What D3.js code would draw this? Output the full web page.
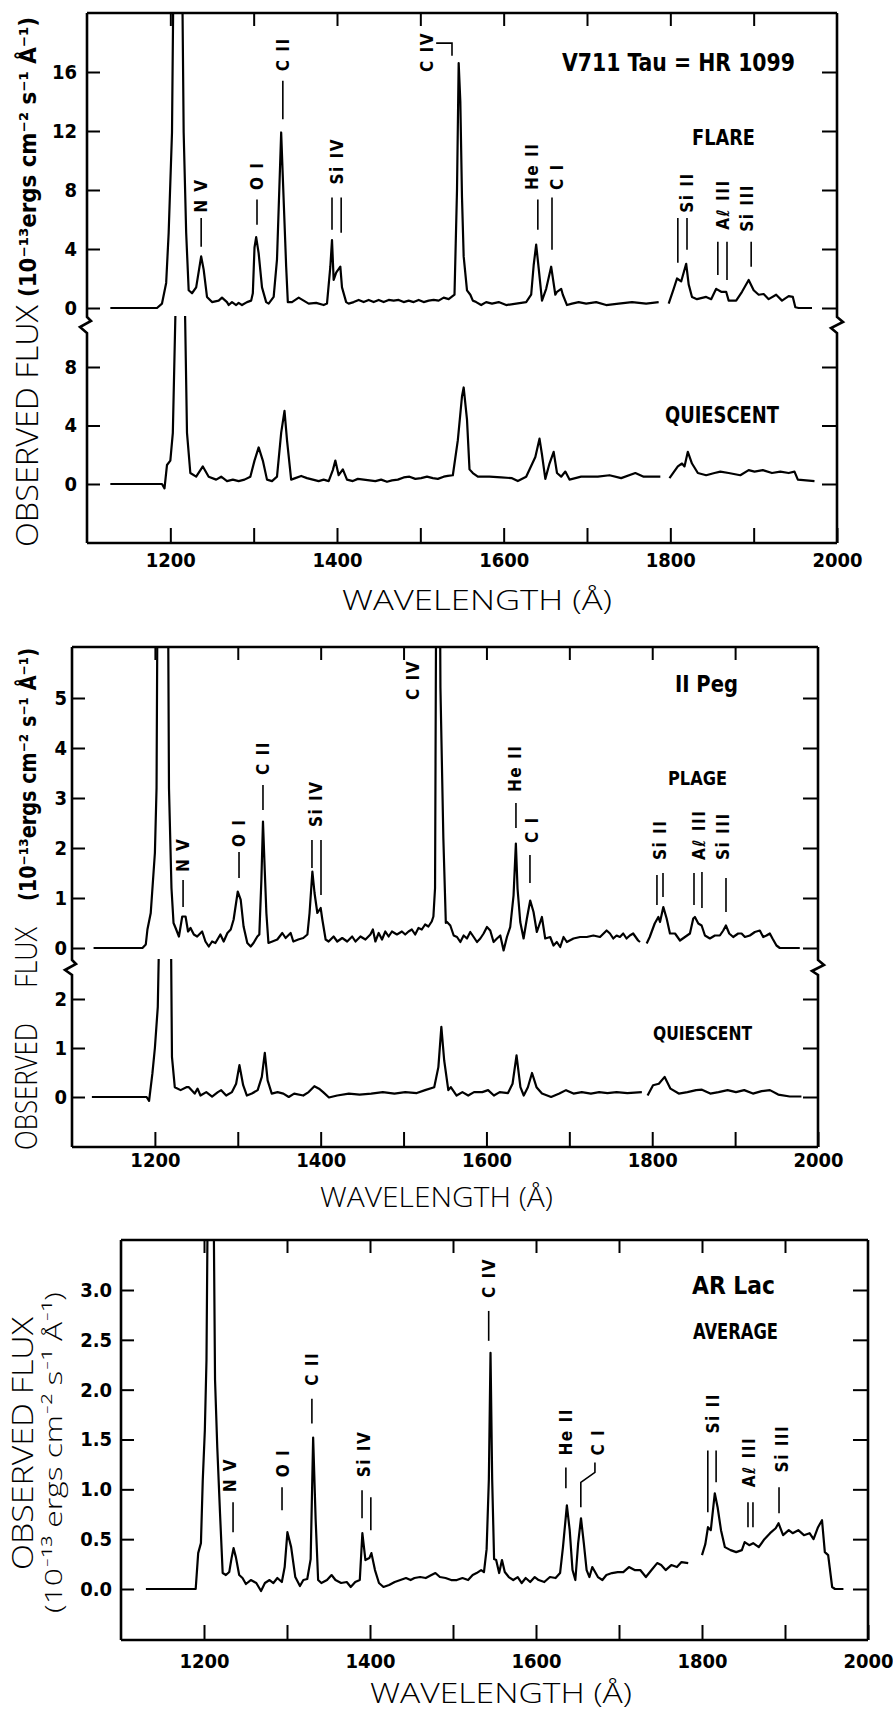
<!DOCTYPE html>
<html>
<head>
<meta charset="utf-8">
<script src="https://cdn.jsdelivr.net/npm/d3@7"></script>
<style>
body { margin: 0; background: #fff; }
.cond, .tick text { font-family: "Liberation Sans Narrow", "Arial Narrow", "DejaVu Sans Condensed", "DejaVu Sans", sans-serif; font-stretch: condensed; font-weight: bold; fill: #000; }
.tick text { font-size: 20px; }
.tick line { stroke: #000; stroke-width: 2; }
.thin { font-family: "Open Sans", "Lato", "Liberation Sans", sans-serif; font-weight: 300; fill: #000; }
.spec { fill: none; stroke: #000; stroke-width: 2.2; stroke-linejoin: round; }
.frame { fill: none; stroke: #000; stroke-width: 2.6; }
.mark { fill: none; stroke: #000; stroke-width: 1.6; }
</style>
</head>
<body>
<svg width="893" height="1712"></svg>
<script>
var svg = d3.select("svg");

// ---- tick values ----
var xTicks = [1200, 1300, 1400, 1500, 1600, 1700, 1800, 1900, 2000];
var xTickLabels = [1200, 1400, 1600, 1800, 2000];
var v711FlareTicks = [0, 4, 8, 12, 16];
var v711QuietTicks = [0, 4, 8];
var iiPegPlageTicks = [0, 1, 2, 3, 4, 5];
var iiPegQuietTicks = [0, 1, 2];
var arLacTicks = [0, 0.5, 1, 1.5, 2, 2.5, 3];

// ---- spectra: [wavelength (A), flux (1e-13 erg/cm2/s/A)], null = gap ----
var v711Flare = [[1128,0],[1184,0],[1190,0.3],[1195,1.7],[1198,5.1],[1202,11.9],[1205,30],[1213,30],[1216,11.9],[1219,5.1],[1222,1.2],[1226,1.0],[1231,1.4],[1237,3.5],[1240,2.6],[1244,0.75],[1250,0.4],[1258,0.5],[1262,0.7],[1268,0.4],[1270,0.2],[1274,0.4],[1279,0.2],[1282,0.35],[1286,0.2],[1292,0.4],[1297,0.5],[1299,1.0],[1301,4.1],[1303,4.8],[1306,3.7],[1310,1.4],[1315,0.4],[1318,0.3],[1324,0.75],[1328,3.3],[1333,11.9],[1336,7.3],[1339,2.8],[1341,0.4],[1346,0.4],[1354,0.7],[1360,0.5],[1366,0.3],[1375,0.35],[1384,0.2],[1388,0.3],[1392,2.8],[1394,4.6],[1396,1.9],[1399,2.4],[1404,2.8],[1406,1.4],[1411,0.4],[1414,0.3],[1420,0.4],[1426,0.55],[1432,0.4],[1438,0.55],[1444,0.4],[1450,0.55],[1456,0.4],[1462,0.55],[1468,0.5],[1474,0.55],[1480,0.4],[1486,0.5],[1492,0.4],[1498,0.55],[1504,0.4],[1510,0.5],[1516,0.55],[1522,0.5],[1528,0.7],[1534,0.6],[1541,0.9],[1544,8],[1546,16.6],[1548,14],[1550,7.5],[1552,3.5],[1556,1.2],[1560,0.9],[1563,0.5],[1567,0.4],[1573,0.2],[1579,0.4],[1586,0.3],[1594,0.4],[1603,0.2],[1615,0.3],[1627,0.4],[1633,0.9],[1636,2.9],[1639,4.3],[1642,2.7],[1646,0.5],[1651,1.3],[1657,2.8],[1662,0.9],[1664,1.1],[1669,1.3],[1671,0.9],[1676,0.2],[1682,0.3],[1690,0.4],[1699,0.3],[1711,0.4],[1723,0.2],[1738,0.3],[1754,0.4],[1771,0.3],[1786,0.4],[1792,null],[1798,0.3],[1804,1.3],[1808,2.0],[1813,1.8],[1819,3.0],[1822,1.6],[1826,0.75],[1832,0.6],[1843,0.75],[1849,0.6],[1855,1.3],[1861,1.1],[1867,1.1],[1870,0.5],[1879,0.5],[1886,1.1],[1894,1.9],[1900,1.2],[1906,0.9],[1912,0.95],[1918,0.6],[1927,0.9],[1934,0.5],[1942,0.8],[1947,0.75],[1950,0.05],[1954,0],[1970,0]];

var v711Quiet = [[1128,0],[1190,0],[1193,-0.3],[1196,1.3],[1200,1.6],[1203,3.5],[1207,14],[1217,14],[1220,3.5],[1224,0.75],[1231,0.5],[1239,1.2],[1246,0.5],[1255,0.3],[1261,0.5],[1268,0.2],[1275,0.3],[1282,0.2],[1289,0.3],[1296,0.5],[1301,1.6],[1306,2.5],[1311,1.6],[1316,0.3],[1322,0.2],[1328,0.5],[1333,3.5],[1337,5.0],[1340,3.0],[1345,0.3],[1350,0.4],[1357,0.55],[1364,0.4],[1371,0.3],[1378,0.2],[1384,0.3],[1390,0.2],[1395,0.95],[1398,1.6],[1402,0.6],[1407,1.0],[1412,0.3],[1419,0.2],[1425,0.35],[1432,0.3],[1439,0.25],[1446,0.2],[1453,0.3],[1460,0.15],[1466,0.25],[1473,0.3],[1480,0.45],[1487,0.5],[1494,0.35],[1501,0.4],[1508,0.5],[1515,0.4],[1521,0.35],[1528,0.5],[1533,0.55],[1539,0.6],[1545,3.0],[1550,6.0],[1552,6.6],[1556,4.4],[1559,1.0],[1563,0.75],[1569,0.5],[1583,0.5],[1597,0.45],[1610,0.4],[1617,0.2],[1627,0.5],[1638,1.85],[1643,3.1],[1646,2.0],[1650,0.35],[1655,1.4],[1660,2.2],[1664,0.75],[1669,0.5],[1674,0.85],[1679,0.3],[1693,0.5],[1713,0.5],[1727,0.6],[1741,0.4],[1758,0.75],[1768,0.5],[1788,0.5],[1794,null],[1799,0.4],[1809,1.2],[1814,1.4],[1817,1.2],[1821,2.2],[1826,1.4],[1833,0.75],[1843,0.6],[1853,0.75],[1860,0.85],[1870,0.75],[1884,0.6],[1894,0.95],[1901,0.85],[1911,0.95],[1922,0.75],[1932,0.85],[1942,0.75],[1949,0.85],[1953,0.3],[1973,0.2]];

var iiPegPlage = [[1126,0],[1185,0],[1189,0.07],[1191,0.37],[1195,0.7],[1200,1.9],[1202,3.2],[1204,10],[1215,10],[1217,3.2],[1220,1.2],[1222.5,0.5],[1225,0.4],[1229,0.23],[1233,0.63],[1237,0.63],[1240,0.33],[1243,0.4],[1247,0.27],[1251,0.23],[1257,0.33],[1261,0.13],[1265,0.03],[1269,0.13],[1273,0.1],[1279,0.27],[1283,0.13],[1287.5,0.3],[1291.5,0.37],[1295,0.57],[1300,1.13],[1303.5,0.97],[1307,0.43],[1311.5,0.1],[1315.6,0.03],[1319,0.1],[1323.6,0.23],[1326,0.27],[1328.5,1.37],[1330.4,2.53],[1332.5,1.57],[1334.5,0.7],[1337,0.1],[1341.7,0.13],[1347.7,0.17],[1353.7,0.3],[1357.7,0.2],[1363.8,0.3],[1367,0.13],[1373,0.17],[1379,0.2],[1384,0.27],[1386.6,0.7],[1390,1.53],[1392.6,1.1],[1396,0.7],[1400,0.8],[1402,0.57],[1406,0.17],[1409.6,0.13],[1415.6,0.23],[1420,0.13],[1426,0.2],[1432,0.13],[1438,0.23],[1442,0.13],[1448,0.23],[1454,0.17],[1460,0.27],[1463,0.37],[1466,0.13],[1470,0.3],[1474,0.17],[1478,0.33],[1482,0.23],[1486,0.33],[1492,0.27],[1498,0.33],[1502,0.27],[1506,0.33],[1510,0.37],[1514,0.27],[1518,0.4],[1522,0.37],[1526,0.47],[1530,0.43],[1534,0.53],[1536,0.63],[1538,1.2],[1540,10],[1543,10],[1544.5,5.2],[1548,2.2],[1551,0.5],[1552.4,0.52],[1556.4,0.45],[1560.5,0.25],[1564.5,0.22],[1568.5,0.12],[1572.5,0.25],[1576.5,0.19],[1580.5,0.32],[1584.6,0.22],[1588.6,0.12],[1592.6,0.19],[1596.6,0.29],[1600.6,0.42],[1604.6,0.35],[1608.6,0.12],[1612.7,0.19],[1616.7,0.25],[1620.7,-0.05],[1624.7,0.22],[1628.7,0.42],[1632.7,1.05],[1635.5,2.09],[1637.5,1.19],[1640.8,0.52],[1644.8,0.19],[1648.8,0.59],[1652.8,0.95],[1656.8,0.72],[1660.8,0.32],[1664.9,0.52],[1666.9,0.62],[1670.9,0.19],[1676.9,0.22],[1680.9,0.05],[1684.9,0.12],[1689,0.02],[1693,0.22],[1697,0.12],[1705,0.19],[1713,0.22],[1721,0.22],[1729,0.25],[1737,0.22],[1745,0.35],[1749,0.29],[1753,0.19],[1757,0.25],[1761,0.22],[1765,0.29],[1769,0.19],[1773,0.25],[1777,0.29],[1783,0.15],[1785.3,0.12],[1789,null],[1793.3,0.09],[1797,0.22],[1803,0.49],[1807.4,0.62],[1809.4,0.52],[1813.4,0.82],[1817.4,0.59],[1821.4,0.29],[1827.5,0.29],[1833.5,0.15],[1839.5,0.22],[1845.5,0.29],[1849.5,0.59],[1851.5,0.62],[1855.6,0.49],[1859.6,0.45],[1863.6,0.25],[1869.6,0.19],[1875.6,0.25],[1881.6,0.25],[1885.7,0.35],[1888.9,0.45],[1892.9,0.29],[1897.7,0.22],[1903.7,0.29],[1907.8,0.29],[1911.8,0.22],[1917.8,0.25],[1923.8,0.32],[1929.8,0.35],[1933.9,0.22],[1937.9,0.25],[1941.9,0.29],[1945.1,0.19],[1949.9,0.05],[1953.9,0],[1978,0]];

var iiPegQuiet = [[1124,0],[1190,0],[1193,-0.08],[1197,0.48],[1200,1.0],[1203.5,1.84],[1207,5],[1218.6,5],[1220.6,0.82],[1224,0.2],[1231,0.14],[1238,0.2],[1241,0.2],[1248,0.07],[1251.5,0.17],[1255,0.03],[1262,0.1],[1269,0.01],[1276,0.1],[1280,0.14],[1286,0.03],[1293,0.1],[1298,0.27],[1302,0.65],[1306.5,0.24],[1311,0.03],[1317,0.07],[1324,0.14],[1329,0.41],[1332.6,0.9],[1336,0.34],[1341,0.07],[1348,0.1],[1355,0.07],[1361.5,0],[1368,0.07],[1379,0.03],[1385.5,0.1],[1392.4,0.22],[1398,0.17],[1403,0.1],[1410,-0.01],[1420,0.03],[1434,0.07],[1447,0.05],[1461,0.07],[1475,0.1],[1489,0.07],[1502,0.1],[1516,0.08],[1526,0.14],[1537,0.2],[1542,0.61],[1545.6,1.43],[1549,0.75],[1554,0.14],[1557,0.2],[1564,0.03],[1571,0.1],[1578,0.03],[1585,0.1],[1595,0.1],[1602,0.14],[1609,0.03],[1616,0.1],[1626,0.08],[1631.5,0.27],[1636.3,0.85],[1641,0.2],[1645,0.03],[1650,0.2],[1655,0.49],[1660.4,0.2],[1667,0.07],[1678,0],[1688,0.07],[1696,0.14],[1705,0.07],[1715,0.1],[1726,0.07],[1736,0.1],[1746,0.08],[1757,0.1],[1770,0.08],[1787.5,0.1],[1791,null],[1794.4,0.03],[1801,0.24],[1808,0.27],[1815,0.41],[1822,0.17],[1832,0.07],[1842.5,0.1],[1853,0.14],[1860,0.15],[1870,0.07],[1880,0.1],[1891,0.14],[1901,0.1],[1911,0.14],[1921.5,0.07],[1932,0.12],[1942,0.14],[1952,0.05],[1966,0.01],[1980,0.01]];

var arLac = [[1130,0],[1182,0],[1190,0],[1193,0.36],[1196.3,0.46],[1198.5,1.09],[1201,1.59],[1203,2.3],[1205.5,5],[1210.5,5],[1213.3,2.1],[1216,1.42],[1219.3,0.76],[1222.5,0.16],[1226.4,0.14],[1230.4,0.17],[1233.2,0.31],[1235.6,0.41],[1238.4,0.32],[1242.4,0.14],[1246.4,0.11],[1250.5,0.05],[1256.4,0.09],[1263,0.06],[1268.7,-0.02],[1273.4,0.06],[1279,0.09],[1283.6,0.06],[1288.4,0.11],[1293.8,0.07],[1297.2,0.22],[1300.5,0.57],[1305,0.42],[1310,0.12],[1315.6,0.03],[1319.7,0.09],[1324.4,0.1],[1328.5,0.3],[1331.5,1.52],[1334.5,0.7],[1337.5,0.09],[1341.4,0.06],[1348.2,0.09],[1353.7,0.14],[1358.4,0.09],[1365.2,0.06],[1372,0.07],[1376.8,0.02],[1382.2,0.07],[1387.7,0.09],[1390.8,0.56],[1394.5,0.29],[1399.2,0.31],[1401.7,0.36],[1406,0.19],[1410.8,0.06],[1416.2,0.02],[1423,0.04],[1429.8,0.07],[1436.6,0.09],[1443.4,0.11],[1448.9,0.09],[1453.6,0.11],[1460.4,0.12],[1467.2,0.11],[1474,0.14],[1478.8,0.16],[1484.2,0.12],[1491,0.11],[1497.8,0.09],[1504.6,0.09],[1511.4,0.11],[1518.2,0.09],[1523.7,0.14],[1528.4,0.16],[1533.9,0.19],[1537.3,0.17],[1540.5,0.4],[1543.2,1.1],[1545.2,2.37],[1547.2,1.1],[1549.5,0.3],[1552,0.29],[1555.6,0.16],[1559,0.29],[1562.4,0.17],[1567.2,0.12],[1572.6,0.09],[1578,0.12],[1582.8,0.06],[1587.6,0.11],[1593,0.07],[1598.5,0.12],[1603.2,0.09],[1610,0.07],[1616.8,0.12],[1623.6,0.11],[1629,0.16],[1632.5,0.42],[1637.2,0.84],[1640.6,0.59],[1644,0.19],[1647.4,0.09],[1650.8,0.46],[1654.2,0.71],[1657.6,0.46],[1661,0.19],[1664.4,0.12],[1667.8,0.22],[1671.2,0.17],[1674.6,0.12],[1680,0.09],[1684.8,0.14],[1691.6,0.16],[1698.4,0.17],[1705.2,0.17],[1712,0.22],[1718.8,0.19],[1725.6,0.19],[1732.4,0.12],[1739.2,0.19],[1746,0.26],[1750.8,0.24],[1756.2,0.19],[1763,0.24],[1769.8,0.22],[1775.3,0.27],[1783.4,0.26],[1791,null],[1800,0.34],[1804,0.45],[1807.2,0.62],[1810.6,0.59],[1815.4,0.96],[1818.8,0.82],[1822.9,0.59],[1827.6,0.42],[1834.4,0.39],[1841.2,0.37],[1848,0.39],[1851.4,0.47],[1856.9,0.44],[1861.6,0.46],[1868.4,0.42],[1875.2,0.5],[1882,0.56],[1888.8,0.61],[1892.2,0.66],[1897.7,0.54],[1904.5,0.59],[1909.2,0.56],[1916,0.59],[1922.8,0.54],[1929.6,0.56],[1934.4,0.5],[1939.8,0.62],[1944.6,0.69],[1948,0.37],[1952,0.34],[1956.8,0.02],[1960.2,0],[1970.4,0]];

// ---- line identifications: text centre wavelength, flux at text start, marker ticks [wave, from, to] or leader path ----
var v711Lines = [
  {t: "N V", w: 1237, f: 6.45, m: [[1237, 6.1, 4.15]]},
  {t: "O I", w: 1304, f: 8.0, m: [[1304, 7.35, 5.65]]},
  {t: "C II", w: 1335, f: 16.05, m: [[1335, 15.4, 12.8]]},
  {t: "Si IV", w: 1400, f: 8.37, m: [[1394, 7.5, 5.3], [1405, 7.5, 5.1]]},
  {t: "C IV", w: 1508, f: 16.0, p: [[1519, 17.96], [1538, 17.96], [1538, 17.1]]},
  {t: "He II", w: 1634, f: 8.0, m: [[1641, 7.35, 5.3]]},
  {t: "C I", w: 1664, f: 8.0, m: [[1658, 7.5, 3.95]]},
  {t: "Si II", w: 1820, f: 6.45, m: [[1809, 6.1, 3.06], [1820, 6.1, 3.95]]},
  {t: "A\u2113 III", w: 1863, f: 5.3, m: [[1857, 4.5, 2.24], [1868, 4.5, 1.9]]},
  {t: "Si III", w: 1892, f: 5.17, m: [[1897, 4.5, 2.8]]}
];
var iiPegLines = [
  {t: "N V", w: 1234, f: 1.52, m: [[1234, 1.36, 0.82]]},
  {t: "O I", w: 1301.5, f: 2.02, m: [[1301.5, 1.92, 1.4]]},
  {t: "C II", w: 1330.4, f: 3.46, m: [[1330.4, 3.26, 2.76]]},
  {t: "Si IV", w: 1394, f: 2.42, m: [[1389.5, 2.16, 1.6], [1400.4, 2.16, 1.06]]},
  {t: "C IV", w: 1511, f: 4.96, m: []},
  {t: "He II", w: 1634, f: 3.12, m: [[1635.6, 2.9, 2.4]]},
  {t: "C I", w: 1655, f: 2.1, m: [[1652.5, 1.86, 1.3]]},
  {t: "Si II", w: 1809, f: 1.76, m: [[1805.7, 1.46, 0.86], [1813, 1.5, 1.02]]},
  {t: "A\u2113 III", w: 1856.4, f: 1.76, m: [[1850.4, 1.5, 0.86], [1860, 1.52, 0.8]]},
  {t: "Si III", w: 1885.4, f: 1.76, m: [[1889, 1.4, 0.72]]}
];
var arLacLines = [
  {t: "N V", w: 1231.3, f: 0.97, m: [[1235, 0.87, 0.57]]},
  {t: "O I", w: 1295, f: 1.12, m: [[1294, 1.02, 0.79]]},
  {t: "C II", w: 1330, f: 2.04, m: [[1330, 1.91, 1.66]]},
  {t: "Si IV", w: 1393, f: 1.12, m: [[1390.4, 0.99, 0.71], [1401, 0.92, 0.59]]},
  {t: "C IV", w: 1543, f: 2.92, m: [[1543, 2.79, 2.49]]},
  {t: "He II", w: 1636, f: 1.34, m: [[1636, 1.22, 1.01]]},
  {t: "C I", w: 1674.7, f: 1.34, p: [[1671, 1.27], [1671, 1.17], [1654, 1.07], [1654, 0.82]]},
  {t: "Si II", w: 1813, f: 1.56, m: [[1807, 1.39, 0.77], [1817, 1.39, 1.07]]},
  {t: "A\u2113 III", w: 1856.6, f: 1.02, m: [[1855.4, 0.87, 0.62], [1861.4, 0.87, 0.62]]},
  {t: "Si III", w: 1896.4, f: 1.17, m: [[1892.8, 1.02, 0.76]]}
];

// ---- layout ----
var panels = [
  {id: "p1", left: 87, right: 837, top: 13, bottom: 543, brk: [317, 333], pad: 10, xpad: 10, fmt: "d",
   subs: [{spec: v711Flare, domain: [0, 16], range: [308, 72], clip: [13, 316], ticks: v711FlareTicks, lines: v711Lines},
          {spec: v711Quiet, domain: [0, 8], range: [484, 367], clip: [316, 543], ticks: v711QuietTicks}],
   titles: [["V711 Tau = HR 1099", 562, 71, 25, 233], ["FLARE", 692, 145, 22, 63], ["QUIESCENT", 665, 423, 23, 114]],
   xtitle: [342, 610, 270]},
  {id: "p2", left: 72, right: 818, top: 647, bottom: 1147, brk: [960, 975], pad: 5, xpad: 6, fmt: "d",
   subs: [{spec: iiPegPlage, domain: [0, 5], range: [948, 698], clip: [647, 959], ticks: iiPegPlageTicks, lines: iiPegLines},
          {spec: iiPegQuiet, domain: [0, 2], range: [1097, 999], clip: [959, 1147], ticks: iiPegQuietTicks}],
   titles: [["II Peg", 675, 692, 23, 63], ["PLAGE", 668, 785, 19, 59], ["QUIESCENT", 653, 1040, 20, 99]],
   xtitle: [320, 1207, 233]},
  {id: "p3", left: 121, right: 868, top: 1240, bottom: 1640, brk: null, pad: 9, xpad: 14, fmt: ".1f",
   subs: [{spec: arLac, domain: [0, 3], range: [1589, 1290], clip: [1240, 1640], ticks: arLacTicks, lines: arLacLines}],
   titles: [["AR Lac", 692, 1294, 24, 83], ["AVERAGE", 693, 1339, 22, 85]],
   xtitle: [370, 1703, 262]}
];

function drawPanel(p) {
  var x = d3.scaleLinear().domain([1100, 2000]).range([p.left, p.right]);
  var g = svg.append("g");

  p.subs.forEach(function(s, i) {
    var y = d3.scaleLinear().domain(s.domain).range(s.range);
    var clipId = p.id + "clip" + i;
    svg.append("clipPath").attr("id", clipId).append("rect")
      .attr("x", p.left).attr("y", s.clip[0])
      .attr("width", p.right - p.left).attr("height", s.clip[1] - s.clip[0]);

    var line = d3.line()
      .defined(function(d) { return d[1] !== null; })
      .x(function(d) { return x(d[0]); })
      .y(function(d) { return y(d[1]); });

    g.append("path").datum(s.spec)
      .attr("class", "spec")
      .attr("clip-path", "url(#" + clipId + ")")
      .attr("d", line);

    // left axis, ticks pointing inside
    g.append("g").attr("transform", "translate(" + p.left + ",0)")
      .call(d3.axisLeft(y).tickValues(s.ticks).tickSizeInner(-13).tickSizeOuter(0)
        .tickPadding(p.pad).tickFormat(d3.format(p.fmt)))
      .call(function(a) { a.select(".domain").remove(); });
    // right axis
    g.append("g").attr("transform", "translate(" + p.right + ",0)")
      .call(d3.axisRight(y).tickValues(s.ticks).tickSizeInner(-15).tickSizeOuter(0).tickFormat(""))
      .call(function(a) { a.select(".domain").remove(); });

    if (s.lines) drawLines(g, s.lines, x, y);
  });

  // x axes
  g.append("g").attr("transform", "translate(0," + p.bottom + ")")
    .call(d3.axisBottom(x).tickValues(xTicks).tickSizeInner(-15).tickSizeOuter(0).tickPadding(p.xpad)
      .tickFormat(function(d) { return xTickLabels.indexOf(d) >= 0 ? d : ""; }))
    .call(function(a) { a.select(".domain").remove(); });
  g.append("g").attr("transform", "translate(0," + p.top + ")")
    .call(d3.axisTop(x).tickValues(xTicks.slice(0, -1)).tickSizeInner(-13).tickSizeOuter(0).tickFormat(""))
    .call(function(a) { a.select(".domain").remove(); });

  // frame with axis breaks
  var L = p.left, R = p.right, T = p.top, B = p.bottom;
  var path = d3.path();
  path.moveTo(L, T); path.lineTo(R, T);
  path.moveTo(L, B); path.lineTo(R, B);
  if (p.brk) {
    var b0 = p.brk[0], b1 = p.brk[1];
    path.moveTo(L, T); path.lineTo(L, b0); path.lineTo(L + 4, b0 + 4); path.lineTo(L - 7, b0 + 10); path.lineTo(L, b1); path.lineTo(L, B);
    path.moveTo(R, T); path.lineTo(R, b0); path.lineTo(R + 6, b0 + 5); path.lineTo(R - 6, b0 + 11); path.lineTo(R, b1); path.lineTo(R, B);
  } else {
    path.moveTo(L, T); path.lineTo(L, B);
    path.moveTo(R, T); path.lineTo(R, B);
  }
  g.append("path").attr("class", "frame").attr("d", path.toString());

  // titles
  p.titles.forEach(function(t) {
    g.append("text").attr("class", "cond")
      .attr("x", t[1]).attr("y", t[2])
      .attr("font-size", t[3])
      .attr("textLength", t[4]).attr("lengthAdjust", "spacingAndGlyphs")
      .text(t[0]);
  });

  // x title
  g.append("text").attr("class", "thin")
    .attr("x", p.xtitle[0]).attr("y", p.xtitle[1])
    .attr("font-size", 28)
    .attr("textLength", p.xtitle[2]).attr("lengthAdjust", "spacingAndGlyphs")
    .text("WAVELENGTH (\u00C5)");
}

function drawLines(g, lines, x, y) {
  lines.forEach(function(l) {
    g.append("text").attr("class", "cond")
      .attr("transform", "translate(" + x(l.w) + "," + y(l.f) + ") rotate(-90)")
      .attr("dy", "0.35em")
      .attr("font-size", 17)
      .attr("letter-spacing", 1.5)
      .text(l.t);
    (l.m || []).forEach(function(m) {
      g.append("line").attr("class", "mark")
        .attr("x1", x(m[0])).attr("x2", x(m[0]))
        .attr("y1", y(m[1])).attr("y2", y(m[2]));
    });
    if (l.p) {
      g.append("path").attr("class", "mark")
        .attr("d", d3.line().x(function(d) { return x(d[0]); }).y(function(d) { return y(d[1]); })(l.p));
    }
  });
}

panels.forEach(drawPanel);

// ---- y axis titles (rotated, read bottom to top) ----
function rotText(txt, cls, cx, ybot, len, size) {
  svg.append("text").attr("class", cls)
    .attr("transform", "translate(" + cx + "," + ybot + ") rotate(-90)")
    .attr("dy", "0.35em").attr("font-size", size)
    .attr("textLength", len).attr("lengthAdjust", "spacingAndGlyphs")
    .text(txt);
}
var unitsTight = "(10\u207B\u00B9\u00B3ergs cm\u207B\u00B2 s\u207B\u00B9 \u00C5\u207B\u00B9)";
var unitsSpaced = "(10\u207B\u00B9\u00B3 ergs cm\u207B\u00B2 s\u207B\u00B9 \u00C5\u207B\u00B9)";

rotText("OBSERVED FLUX", "thin", 27, 547, 242, 31);
rotText(unitsTight, "cond", 28, 297, 280, 23);
rotText("OBSERVED", "thin", 26, 1150, 127, 31);
rotText("FLUX", "thin", 26, 988, 61, 31);
rotText(unitsTight, "cond", 28, 901, 253, 23);
rotText("OBSERVED FLUX", "thin", 23, 1570, 253, 29);
rotText(unitsSpaced, "thin", 54, 1613, 321, 24);
</script>
</body>
</html>
